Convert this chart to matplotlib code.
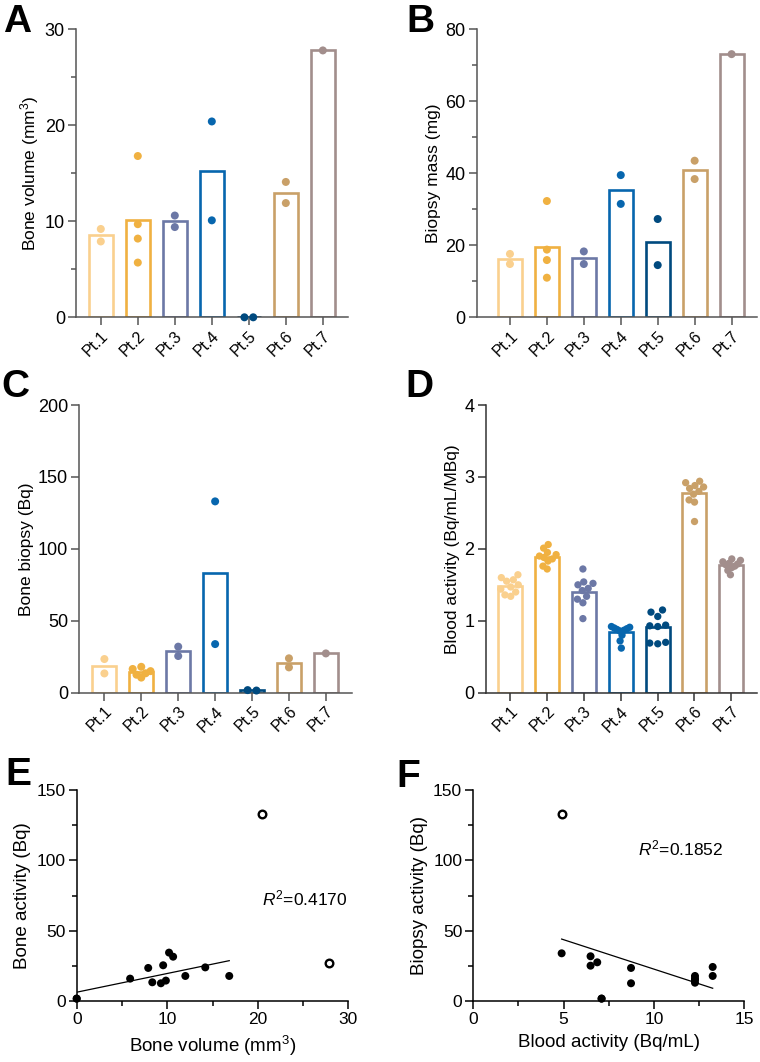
import numpy as np
import matplotlib
matplotlib.use('Agg')
import matplotlib.pyplot as plt
from matplotlib.ticker import MultipleLocator

plt.rcParams['font.family'] = ['Liberation Sans', 'DejaVu Sans']
plt.rcParams['mathtext.fontset'] = 'custom'
plt.rcParams['mathtext.rm'] = 'Liberation Sans'
plt.rcParams['mathtext.it'] = 'Liberation Sans:italic'

patients = ['Pt.1', 'Pt.2', 'Pt.3', 'Pt.4', 'Pt.5', 'Pt.6', 'Pt.7']
colors = ['#FAD08E', '#F0B141', '#6C78A6', '#0766AE', '#004A7F', '#C9A068', '#A28E8C']

# per patient values
bone_volume = [[9.2, 7.9], [16.8, 9.7, 8.2, 5.7], [10.6, 9.4], [20.4, 10.1],
               [0.0, 0.0], [14.1, 11.9], [27.8]]
biopsy_mass = [[17.6, 14.8], [32.3, 18.8, 15.9, 11.0], [18.3, 14.8], [39.5, 31.5],
               [27.3, 14.5], [43.5, 38.4], [73.1]]
bone_biopsy = [[23.4, 13.4], [10.5, 12.5, 13.5, 15.0, 16.5, 18.0], [32.0, 25.5],
               [133.0, 33.8], [1.5, 1.8], [23.9, 17.6], [27.3]]
blood_activity = [[1.64, 1.60, 1.57, 1.55, 1.50, 1.47, 1.44, 1.40, 1.36, 1.34],
                  [2.06, 2.01, 1.95, 1.92, 1.90, 1.88, 1.86, 1.83, 1.76, 1.72],
                  [1.72, 1.54, 1.52, 1.50, 1.45, 1.42, 1.34, 1.30, 1.25, 1.03],
                  [0.92, 0.91, 0.90, 0.89, 0.88, 0.87, 0.86, 0.80, 0.72, 0.62],
                  [1.15, 1.12, 1.06, 0.94, 0.93, 0.92, 0.70, 0.69, 0.68],
                  [2.94, 2.92, 2.88, 2.86, 2.84, 2.80, 2.76, 2.68, 2.65, 2.38],
                  [1.86, 1.84, 1.82, 1.80, 1.79, 1.78, 1.76, 1.74, 1.70, 1.64]]

# correlations
e_vol = [0.0, 0.0, 5.9, 7.9, 8.35, 9.3, 9.55, 9.85, 10.2, 10.65, 12.0, 14.2, 16.85]
e_act = [1.7, 1.7, 15.9, 23.5, 13.3, 12.6, 25.4, 14.5, 34.4, 31.5, 17.8, 23.9, 17.8]
e_vol_out = [20.5, 27.85]
e_act_out = [133.2, 27.3]

f_blood = [4.89, 6.49, 6.49, 6.86, 7.10, 7.10, 8.73, 8.73, 12.27, 12.27, 12.27, 12.27, 13.25, 13.25]
f_biopsy = [33.9, 31.8, 25.1, 27.5, 1.7, 1.7, 23.5, 12.6, 17.8, 16.0, 15.0, 13.0, 24.2, 17.8]
f_blood_out = [4.89]
f_biopsy_out = [133.2]

W, H = 760, 1062
fig = plt.figure(figsize=(W / 100, H / 100), dpi=100)


def axes_px(left, top, right, bottom):
    return fig.add_axes([left / W, 1 - bottom / H, (right - left) / W, (bottom - top) / H])


def swarm(vals, d, ppx, ppy, limit):
    placed = []
    offs = np.zeros(len(vals))
    for i in np.argsort(vals):
        y = vals[i] * ppy
        cands = [0.0]
        for px, py in placed:
            dy = y - py
            if abs(dy) < d:
                dx = np.sqrt(d ** 2 - dy ** 2)
                cands += [px + dx, px - dx]
        cands.sort(key=lambda c: (abs(c), c))
        for c in cands:
            if all((c - px) ** 2 + (y - py) ** 2 >= d ** 2 - 1e-6 for px, py in placed):
                break
        placed.append((c, y))
        offs[i] = c
    offs = (offs - offs.mean()) / ppx
    m = np.abs(offs).max()
    if m > limit:
        offs = offs * limit / m
    return offs


def style(ax, col, fs):
    for s in ['top', 'right']:
        ax.spines[s].set_visible(False)
    for s in ['left', 'bottom']:
        ax.spines[s].set_color(col)
        ax.spines[s].set_linewidth(1.1)
    ax.tick_params(which='major', length=6, width=1.1, color=col, labelsize=fs, pad=2)
    ax.tick_params(which='minor', length=3.5, width=1.1, color=col)


def bar_panel(ax, groups, ymax, major, minor, ylabel, xlim, dot_px, axcol):
    x = np.arange(len(patients))
    means = [np.mean(g) for g in groups]
    ax.bar(x, means, width=0.65, facecolor='none', edgecolor=colors, linewidth=1.9, zorder=2)
    ax.set_xlim(*xlim)
    ax.set_ylim(0, ymax)
    ppx = ax.bbox.width / (xlim[1] - xlim[0])
    ppy = ax.bbox.height / ymax
    s = (dot_px * 0.72) ** 2
    for i, g in enumerate(groups):
        offs = swarm(np.array(g, dtype=float), dot_px * 1.1, ppx, ppy, 0.25)
        ax.scatter(i + offs, g, s=s, color=colors[i], edgecolors='none', zorder=3, clip_on=False)
    style(ax, axcol, 13)
    ax.tick_params(axis='x', labelsize=11.5)
    ax.yaxis.set_major_locator(MultipleLocator(major))
    if minor:
        ax.yaxis.set_minor_locator(MultipleLocator(minor))
    ax.set_xticks(x)
    ax.set_xticklabels(patients, rotation=45, ha='right', va='top', rotation_mode='anchor')
    ax.set_ylabel(ylabel, fontsize=12.5, labelpad=3)


axA = axes_px(76, 29.3, 348, 317.3)
bar_panel(axA, bone_volume, 30, 10, 5, 'Bone volume (mm$^3$)', (-0.67, 6.68), 8, '#555555')
axB = axes_px(476.7, 29.3, 756.7, 317.3)
bar_panel(axB, biopsy_mass, 80, 20, 10, 'Biopsy mass (mg)', (-0.9, 6.68), 8, '#555555')
axC = axes_px(79.3, 405, 351.7, 692.7)
bar_panel(axC, bone_biopsy, 200, 50, None, 'Bone biopsy (Bq)', (-0.68, 6.7), 8, '#555555')
axD = axes_px(485.7, 405, 756.7, 692.7)
bar_panel(axD, blood_activity, 4, 1, None, 'Blood activity (Bq/mL/MBq)', (-0.66, 6.69), 7.3, '#333333')


def scatter_panel(ax, x_in, y_in, x_out, y_out, xlim, xmaj, xmin, fit_x, fit_y, xlabel, ylabel, txt, txy):
    ax.scatter(x_in, y_in, s=33, color='black', edgecolors='none', zorder=3, clip_on=False)
    ax.scatter(x_out, y_out, s=30, facecolor='white', edgecolors='black', linewidths=1.7,
               zorder=3, clip_on=False)
    k, b = np.polyfit(fit_x, fit_y, 1)
    xx = np.array([min(fit_x), max(fit_x)])
    ax.plot(xx, k * xx + b, color='black', lw=0.9, zorder=2)
    ax.set_xlim(*xlim)
    ax.set_ylim(0, 150)
    style(ax, 'black', 12.5)
    ax.xaxis.set_major_locator(MultipleLocator(xmaj))
    ax.xaxis.set_minor_locator(MultipleLocator(xmin))
    ax.yaxis.set_major_locator(MultipleLocator(50))
    ax.yaxis.set_minor_locator(MultipleLocator(25))
    ax.set_xlabel(xlabel, fontsize=13.5, labelpad=5)
    ax.set_ylabel(ylabel, fontsize=13.5, labelpad=4)
    ax.text(txy[0], txy[1], txt, fontsize=12.5, ha='left', va='center')


axE = axes_px(76.7, 790, 348.3, 1001)
scatter_panel(axE, e_vol, e_act, e_vol_out, e_act_out, (0, 30), 10, 5, e_vol, e_act,
              'Bone volume (mm$^3$)', 'Bone activity (Bq)', '$R^2$=0.4170', (20.5, 73))
axF = axes_px(473.3, 790, 744.3, 1001)
scatter_panel(axF, f_blood, f_biopsy, f_blood_out, f_biopsy_out, (0, 15), 5, 2.5,
              f_blood + f_blood_out, f_biopsy + f_biopsy_out,
              'Blood activity (Bq/mL)', 'Biopsy activity (Bq)', '$R^2$=0.1852', (9.1, 108.5))

for letter, (lx, by) in zip('ABCDEF', [(3, 31.7), (406.7, 31.7), (1.7, 397.3), (405, 397),
                                       (5, 785), (396.7, 786.7)]):
    fig.text(lx / W, 1 - by / H, letter, fontsize=28, fontweight='bold', ha='left', va='baseline')

fig.savefig('out.png', dpi=100)
